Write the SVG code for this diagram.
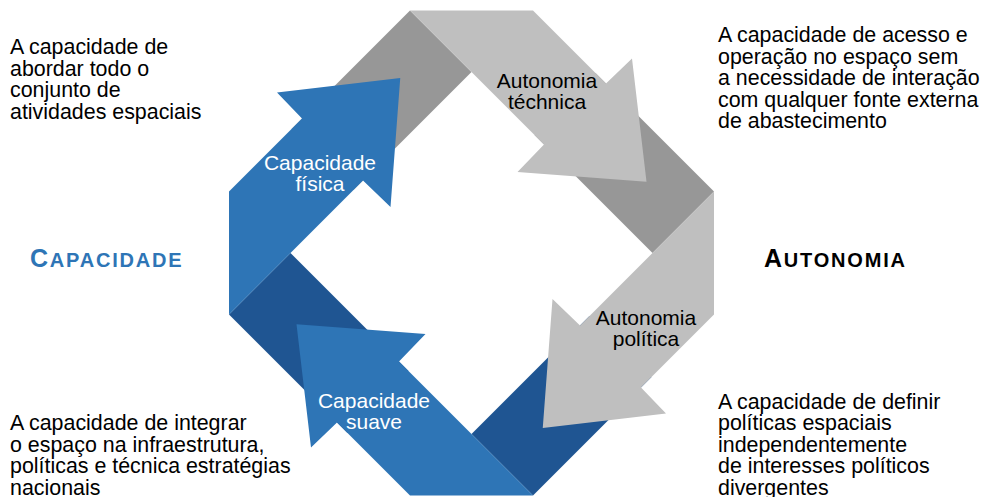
<svg xmlns="http://www.w3.org/2000/svg" width="985" height="497" viewBox="0 0 985 497">
<style>
.txt{font-family:"Liberation Sans",Arial,sans-serif;font-size:21.4px;fill:#000}
.lbl{font-family:"Liberation Sans",Arial,sans-serif;font-size:21px;text-anchor:middle}
.w{fill:#fff}
.k{fill:#000}
.ttl{font-family:"Liberation Sans",Arial,sans-serif;font-weight:bold;letter-spacing:1.8px}
.lb{fill:#2E75B6}
.db{fill:#1F5592}
.lg{fill:#BFBFBF}
.dg{fill:#979797}
</style>
<rect width="985" height="497" fill="#fff"/>
<g id="connectors">
  <polygon class="dg" points="291.5,129 410,10.5 471.5,72 353.5,190"/>
  <polygon class="dg" points="595.5,73 714,191.5 652.5,253 534.5,135"/>
  <polygon class="db" points="651.5,377 533,495.5 471.5,434 589.5,316"/>
  <polygon class="db" points="347.5,433 229,314.5 290.5,253 408.5,371"/>
</g>
<g id="capacidade-fisica">
  <polygon class="lb" points="229,314.5 229,191.5 302,118.5 277,92.5 400.25,78 390.5,207 363,180.5 290.5,253"/>
  <text class="lbl w" x="320" y="170">Capacidade</text>
  <text class="lbl w" x="320" y="191">física</text>
</g>
<g id="autonomia-technica">
  <polygon class="lg" points="410,10.5 533,10.5 606,83.5 632,58.5 646.5,181.75 517.5,172 544,144.5 471.5,72"/>
  <text class="lbl k" x="547" y="88">Autonomia</text>
  <text class="lbl k" x="547" y="109">téchnica</text>
</g>
<g id="autonomia-politica">
  <polygon class="lg" points="714,191.5 714,314.5 641,387.5 666,413.5 542.75,428 552.5,299 580,325.5 652.5,253"/>
  <text class="lbl k" x="646" y="325">Autonomia</text>
  <text class="lbl k" x="646" y="346">política</text>
</g>
<g id="capacidade-suave">
  <polygon class="lb" points="533,495.5 410,495.5 337,422.5 311,447.5 296.5,324.25 425.5,334 399,361.5 471.5,434"/>
  <text class="lbl w" x="374" y="408">Capacidade</text>
  <text class="lbl w" x="374" y="429">suave</text>
</g>
<g id="titulo-capacidade">
  <text class="ttl" x="30" y="267" fill="#2E75B6"><tspan font-size="25">C</tspan><tspan font-size="20">APACIDADE</tspan></text>
</g>
<g id="titulo-autonomia">
  <text class="ttl" x="764" y="267" fill="#000"><tspan font-size="25">A</tspan><tspan font-size="20">UTONOMIA</tspan></text>
</g>
<g id="desc-capacidade-fisica">
  <text class="txt" x="10" y="54">A capacidade de</text>
  <text class="txt" x="10" y="75.6">abordar todo o</text>
  <text class="txt" x="10" y="97.2">conjunto de</text>
  <text class="txt" x="10" y="118.8">atividades espaciais</text>
</g>
<g id="desc-autonomia-technica">
  <text class="txt" x="718" y="42">A capacidade de acesso e</text>
  <text class="txt" x="718" y="63.5">operação no espaço sem</text>
  <text class="txt" x="718" y="85">a necessidade de interação</text>
  <text class="txt" x="718" y="106.5">com qualquer fonte externa</text>
  <text class="txt" x="718" y="128">de abastecimento</text>
</g>
<g id="desc-capacidade-suave">
  <text class="txt" x="10" y="430">A capacidade de integrar</text>
  <text class="txt" x="10" y="451.5">o espaço na infraestrutura,</text>
  <text class="txt" x="10" y="473">políticas e técnica estratégias</text>
  <text class="txt" x="10" y="494.5">nacionais</text>
</g>
<g id="desc-autonomia-politica">
  <text class="txt" x="718" y="408.5">A capacidade de definir</text>
  <text class="txt" x="718" y="430">políticas espaciais</text>
  <text class="txt" x="718" y="451.5">independentemente</text>
  <text class="txt" x="718" y="473">de interesses políticos</text>
  <text class="txt" x="718" y="494.5">divergentes</text>
</g>
</svg>
